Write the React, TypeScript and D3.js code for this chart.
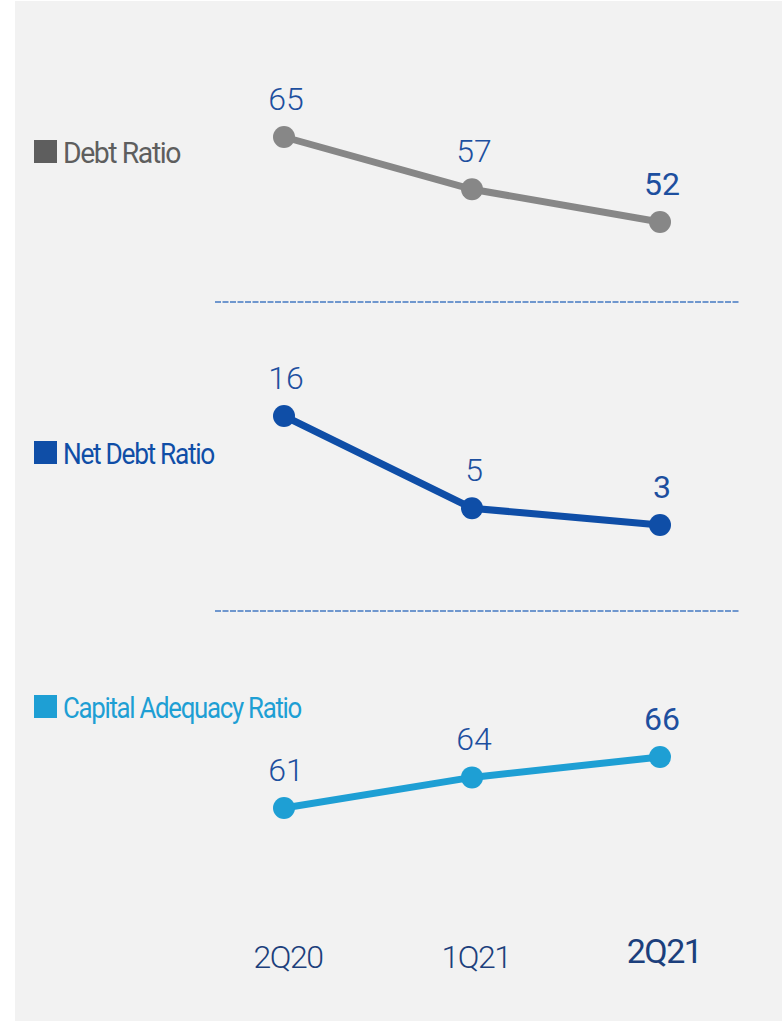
import { useEffect, useRef } from 'react';
import * as d3 from 'd3';

const quarters: string[] = ['2Q20', '1Q21', '2Q21'];
const debtRatio: number[] = [65, 57, 52];
const netDebtRatio: number[] = [16, 5, 3];
const capitalAdequacyRatio: number[] = [61, 64, 66];

interface Panel {
  name: string;
  values: number[];
  color: string;
  legendColor: string;
  legendY: number;
  legendWidth: number;
  yRange: [number, number];
  lineWidth: number;
}

const App: React.FC = () => {
  const svgRef = useRef<SVGSVGElement | null>(null);

  useEffect(() => {
    if (!svgRef.current) return;
    const width = 782;
    const height = 1021;
    const svg = d3.select(svgRef.current);
    svg.selectAll('*').remove();

    const font = "'Roboto', 'Noto Sans', sans-serif";
    const labelColor = '#1d4f9f';

    svg.append('rect')
      .attr('x', 15).attr('y', 1)
      .attr('width', width - 15).attr('height', height - 1)
      .attr('fill', '#f2f2f2');

    const x = d3.scalePoint<string>().domain(quarters).range([284, 660]);

    // each panel has its own value scale
    const panels: Panel[] = [
      { name: 'Debt Ratio', values: debtRatio, color: '#878787', legendColor: '#5e5e5e', legendY: 163, legendWidth: 117, yRange: [222, 137], lineWidth: 7 },
      { name: 'Net Debt Ratio', values: netDebtRatio, color: '#0f4ea7', legendColor: '#0f4ea7', legendY: 464, legendWidth: 151, yRange: [525, 416], lineWidth: 7 },
      { name: 'Capital Adequacy Ratio', values: capitalAdequacyRatio, color: '#1e9fd4', legendColor: '#1e9fd4', legendY: 718, legendWidth: 238, yRange: [808, 757], lineWidth: 7 },
    ];

    panels.forEach((p) => {
      const ext = d3.extent(p.values) as [number, number];
      const y = d3.scaleLinear().domain(ext).range(p.yRange);
      const g = svg.append('g');

      // legend
      g.append('rect')
        .attr('x', 34).attr('y', p.legendY - 23)
        .attr('width', 23).attr('height', 23)
        .attr('fill', p.legendColor);
      g.append('text')
        .attr('x', 63).attr('y', p.legendY)
        .attr('font-family', font)
        .attr('font-size', 30)
        .attr('letter-spacing', -1.5)
        .attr('textLength', p.legendWidth)
        .attr('lengthAdjust', 'spacingAndGlyphs')
        .attr('fill', p.legendColor)
        .text(p.name);

      const line = d3.line<number>()
        .x((_, i) => x(quarters[i]) ?? 0)
        .y((d) => y(d));

      g.append('path')
        .datum(p.values)
        .attr('d', line)
        .attr('fill', 'none')
        .attr('stroke', p.color)
        .attr('stroke-width', p.lineWidth);

      g.selectAll('circle')
        .data(p.values)
        .enter()
        .append('circle')
        .attr('cx', (_, i) => x(quarters[i]) ?? 0)
        .attr('cy', (d) => y(d))
        .attr('r', 11)
        .attr('fill', p.color);

      g.selectAll('text.val')
        .data(p.values)
        .enter()
        .append('text')
        .attr('class', 'val')
        .attr('x', (_, i) => (x(quarters[i]) ?? 0) + 2)
        .attr('y', (d) => y(d) - 27)
        .attr('text-anchor', 'middle')
        .attr('font-family', font)
        .attr('font-size', 32)
        .attr('font-weight', (_, i) => (i === quarters.length - 1 ? 400 : 300))
        .attr('fill', labelColor)
        .text((d) => d);
    });

    // dashed separators
    [302, 611].forEach((yy) => {
      svg.append('line')
        .attr('x1', 215).attr('x2', 740)
        .attr('y1', yy).attr('y2', yy)
        .attr('stroke', '#4479c2')
        .attr('stroke-width', 1.6)
        .attr('stroke-dasharray', '6 1.5');
    });

    // x axis labels
    svg.selectAll('text.axis')
      .data(quarters)
      .enter()
      .append('text')
      .attr('class', 'axis')
      .attr('x', (d) => (x(d) ?? 0) + 4)
      .attr('y', (_, i) => (i === quarters.length - 1 ? 963 : 968))
      .attr('text-anchor', 'middle')
      .attr('font-family', font)
      .attr('font-size', (_, i) => (i === quarters.length - 1 ? 34 : 32))
      .attr('font-weight', (_, i) => (i === quarters.length - 1 ? 400 : 300))
      .attr('letter-spacing', -1.5)
      .attr('fill', '#1c3f7c')
      .text((d) => d);
  }, []);

  return (
    <svg ref={svgRef} width={782} height={1021} style={{ position: 'absolute', left: 0, top: 0 }}></svg>
  );
};

export default App;
